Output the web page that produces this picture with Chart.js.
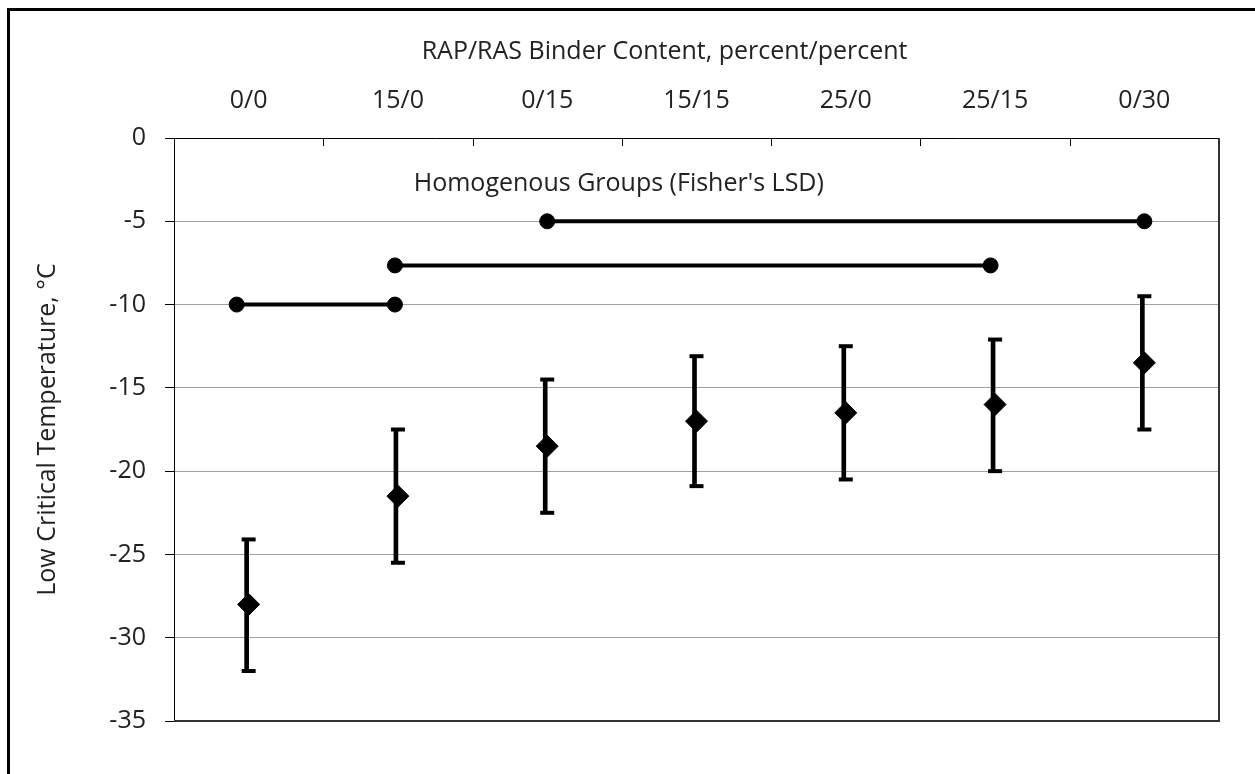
<!DOCTYPE html>
<html>
<head>
<meta charset="utf-8">
<script src="https://cdn.jsdelivr.net/npm/chart.js@4.4.1/dist/chart.umd.min.js"></script>
<style>
  html, body { margin: 0; padding: 0; background: #fff; overflow: hidden; }
  #marco { position: absolute; left: 7px; top: 8px; width: 1400px; height: 900px; border: 3px solid #000; }
  #caja { position: absolute; left: 0; top: 0; width: 1255px; height: 774px; }
</style>
</head>
<body>
<div id="marco"></div>
<div id="caja"><canvas id="miGrafica"></canvas></div>
<script>
// mezclas RAP/RAS
var categorias = ["0/0", "15/0", "0/15", "15/15", "25/0", "25/15", "0/30"];
var medias = [-28, -21.5, -18.5, -17, -16.5, -16, -13.5];
var limiteSup = [-24.1, -17.5, -14.5, -13.1, -12.5, -12.1, -9.5];
var limiteInf = [-32, -25.5, -22.5, -20.9, -20.5, -20, -17.5];
var ticksY = [0, -5, -10, -15, -20, -25, -30, -35];

// grupos homogeneos (posicion en el eje 1..7, valor)
var grupo1X = [0.92, 1.98];
var grupo1Y = [-10, -10];
var grupo2X = [1.98, 5.97];
var grupo2Y = [-7.65, -7.65];
var grupo3X = [3.0, 7.0];
var grupo3Y = [-5, -5];
var textoGrupos = "Homogenous Groups (Fisher's LSD)";
var textoGruposX = 2.106;
var textoGruposY = -2.75;
var tituloX = "RAP/RAS Binder Content, percent/percent";
var tituloXPos = 3.786;

var fuente = "'Open Sans', sans-serif";
var tam = 25;

document.addEventListener("DOMContentLoaded", function(){
    grafica();
});

function puntos(xs, ys){
    return xs.map(function(x, i){ return {x: x, y: ys[i]}; });
}

function grupo(xs, ys){
    return {
        type: "line",
        xAxisID: "x2",
        data: puntos(xs, ys),
        borderColor: "#000",
        borderWidth: 4,
        pointRadius: 7.5,
        pointBorderWidth: 1,
        pointBackgroundColor: "#000",
        pointBorderColor: "#000",
        order: 2
    };
}

function grafica(){
    let miCanvas = document.getElementById("miGrafica").getContext("2d");

    // borde del area, marcas hacia dentro en el eje de arriba y textos
    var extras = {
        id: "extras",
        afterDraw: function(chart){
            var ctx = chart.ctx;
            var a = chart.chartArea;
            var sx = chart.scales.x;
            var sx2 = chart.scales.x2;
            var sy = chart.scales.y;
            ctx.save();
            ctx.strokeStyle = "#000";
            ctx.lineWidth = 1;
            var paso = sx.getPixelForValue(1) - sx.getPixelForValue(0);
            for (var i = 0; i <= categorias.length; i++) {
                var px = Math.round(sx.getPixelForValue(0) - paso / 2 + i * paso) + 0.5;
                ctx.beginPath();
                ctx.moveTo(px, a.top);
                ctx.lineTo(px, a.top + 8);
                ctx.stroke();
            }
            ctx.strokeStyle = "#333";
            ctx.lineWidth = 2;
            ctx.beginPath();
            ctx.moveTo(a.left, a.bottom);
            ctx.lineTo(a.right, a.bottom);
            ctx.lineTo(a.right, a.top);
            ctx.stroke();

            ctx.fillStyle = "#222";
            ctx.font = tam + "px " + fuente;
            ctx.textAlign = "left";
            ctx.textBaseline = "middle";
            ctx.fillText(textoGrupos, sx2.getPixelForValue(textoGruposX), sy.getPixelForValue(textoGruposY));
            ctx.textAlign = "center";
            ctx.fillText(tituloX, sx2.getPixelForValue(tituloXPos), 52);
            ctx.restore();
        }
    };

    var chart = new Chart(miCanvas, {
        type: "bar",
        data: {
            labels: categorias,
            datasets: [{
                type: "bar",
                data: limiteInf.map(function(v, i){ return [v, limiteSup[i]]; }),
                backgroundColor: "#000",
                barThickness: 4,
                order: 5
            }, {
                type: "line",
                data: limiteSup,
                showLine: false,
                pointStyle: "line",
                pointRadius: 7,
                borderColor: "#000",
                borderWidth: 4,
                order: 4
            }, {
                type: "line",
                data: limiteInf,
                showLine: false,
                pointStyle: "line",
                pointRadius: 7,
                borderColor: "#000",
                borderWidth: 4,
                order: 4
            }, {
                type: "line",
                data: medias,
                showLine: false,
                pointStyle: "rectRot",
                pointRadius: 11,
                backgroundColor: "#000",
                borderColor: "#000",
                borderWidth: 1,
                order: 1
            },
            grupo(grupo1X, grupo1Y),
            grupo(grupo2X, grupo2Y),
            grupo(grupo3X, grupo3Y)]
        },
        options: {
            responsive: true,
            maintainAspectRatio: false,
            animation: false,
            layout: { padding: { left: 0, top: 0, right: 36, bottom: 53 } },
            plugins: {
                legend: { display: false },
                tooltip: { enabled: false }
            },
            scales: {
                x: {
                    position: "top",
                    offset: true,
                    grid: { display: false, drawTicks: false },
                    border: { display: true, color: "#000", width: 1 },
                    ticks: { color: "#222", font: { family: fuente, size: tam }, padding: 22, maxRotation: 0 },
                    title: { display: false },
                    afterFit: function(s){ s.height = 138; }
                },
                x2: {
                    type: "linear",
                    display: false,
                    offset: false,
                    min: 0.5,
                    max: 7.5
                },
                y: {
                    min: -35,
                    max: 0,
                    afterBuildTicks: function(s){ s.ticks = ticksY.map(function(v){ return {value: v}; }); },
                    grid: { color: "#a0a0a0", lineWidth: 1, tickColor: "#000", tickLength: 9 },
                    border: { display: true, color: "#000", width: 1 },
                    ticks: { color: "#222", font: { family: fuente, size: tam }, padding: 19 },
                    title: {
                        display: true,
                        text: "Low Critical Temperature, °C",
                        color: "#222",
                        font: { family: fuente, size: tam, lineHeight: 1.2 },
                        padding: { top: 33, bottom: 0 }
                    },
                    afterFit: function(s){ s.width = 174; }
                }
            }
        },
        plugins: [extras]
    });
}
</script>
</body>
</html>
